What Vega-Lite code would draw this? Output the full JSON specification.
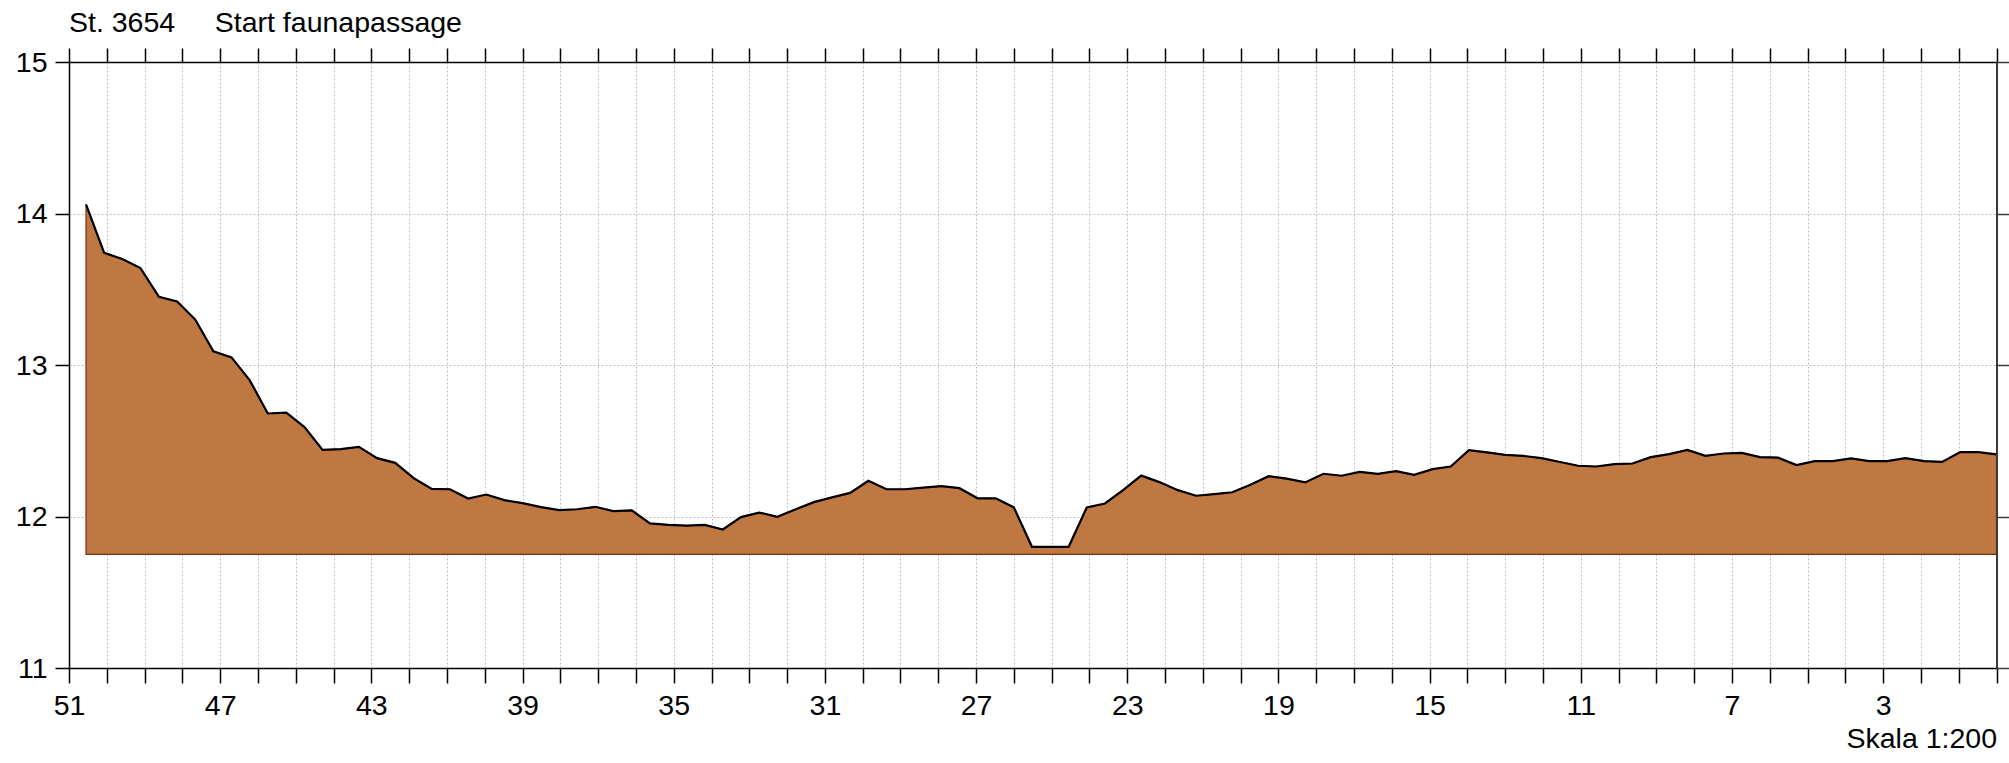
{
  "$schema": "https://vega.github.io/schema/vega-lite/v6.json",
  "width": 1927.5,
  "height": 606,
  "autosize": "none",
  "padding": {"left": 69, "top": 62, "right": 12.5, "bottom": 95},
  "background": "white",
  "title": {
    "text": "St. 3654\u00a0\u00a0\u00a0\u00a0\u00a0Start faunapassage",
    "anchor": "start",
    "frame": "group",
    "font": "Liberation Sans",
    "fontSize": 28.5,
    "fontWeight": "normal",
    "color": "black",
    "offset": 10
  },
  "config": {
    "view": {"stroke": null},
    "axis": {
      "labelFont": "Liberation Sans",
      "titleFont": "Liberation Sans",
      "labelColor": "black",
      "titleColor": "black",
      "domainColor": "black",
      "tickColor": "black",
      "domainWidth": 1.5,
      "tickWidth": 1.5,
      "gridColor": "#c0c0c0",
      "gridDash": [2, 2],
      "gridWidth": 1
    }
  },
  "data": {
    "values": [
      {"x": 50.55, "z": 14.06}, {"x": 50.07, "z": 13.74}, {"x": 49.59, "z": 13.70}, {"x": 49.11, "z": 13.64},
      {"x": 48.62, "z": 13.45}, {"x": 48.14, "z": 13.42}, {"x": 47.66, "z": 13.30}, {"x": 47.18, "z": 13.09},
      {"x": 46.70, "z": 13.05}, {"x": 46.22, "z": 12.90}, {"x": 45.74, "z": 12.68}, {"x": 45.25, "z": 12.685},
      {"x": 44.77, "z": 12.59}, {"x": 44.29, "z": 12.44}, {"x": 43.81, "z": 12.445}, {"x": 43.33, "z": 12.46},
      {"x": 42.85, "z": 12.385}, {"x": 42.37, "z": 12.354}, {"x": 41.88, "z": 12.253}, {"x": 41.40, "z": 12.182},
      {"x": 40.92, "z": 12.18}, {"x": 40.44, "z": 12.119}, {"x": 39.96, "z": 12.145}, {"x": 39.48, "z": 12.108},
      {"x": 39.00, "z": 12.088}, {"x": 38.51, "z": 12.062}, {"x": 38.03, "z": 12.042}, {"x": 37.55, "z": 12.048},
      {"x": 37.07, "z": 12.064}, {"x": 36.59, "z": 12.035}, {"x": 36.11, "z": 12.04}, {"x": 35.63, "z": 11.955},
      {"x": 35.14, "z": 11.945}, {"x": 34.66, "z": 11.94}, {"x": 34.18, "z": 11.945}, {"x": 33.70, "z": 11.914},
      {"x": 33.22, "z": 11.996}, {"x": 32.74, "z": 12.026}, {"x": 32.26, "z": 11.998}, {"x": 31.77, "z": 12.048},
      {"x": 31.29, "z": 12.095}, {"x": 30.81, "z": 12.126}, {"x": 30.33, "z": 12.156}, {"x": 29.85, "z": 12.236},
      {"x": 29.37, "z": 12.18}, {"x": 28.89, "z": 12.18}, {"x": 28.40, "z": 12.19}, {"x": 27.92, "z": 12.20},
      {"x": 27.44, "z": 12.187}, {"x": 26.96, "z": 12.12}, {"x": 26.48, "z": 12.12}, {"x": 26.00, "z": 12.06},
      {"x": 25.52, "z": 11.80}, {"x": 25.03, "z": 11.80}, {"x": 24.55, "z": 11.80}, {"x": 24.07, "z": 12.06},
      {"x": 23.59, "z": 12.086}, {"x": 23.11, "z": 12.174}, {"x": 22.63, "z": 12.27}, {"x": 22.15, "z": 12.227},
      {"x": 21.66, "z": 12.174}, {"x": 21.18, "z": 12.137}, {"x": 20.70, "z": 12.148}, {"x": 20.22, "z": 12.16},
      {"x": 19.74, "z": 12.21}, {"x": 19.26, "z": 12.266}, {"x": 18.78, "z": 12.25}, {"x": 18.29, "z": 12.225},
      {"x": 17.81, "z": 12.282}, {"x": 17.33, "z": 12.269}, {"x": 16.85, "z": 12.295}, {"x": 16.37, "z": 12.282},
      {"x": 15.89, "z": 12.30}, {"x": 15.41, "z": 12.275}, {"x": 14.92, "z": 12.313}, {"x": 14.44, "z": 12.33},
      {"x": 13.96, "z": 12.438}, {"x": 13.48, "z": 12.423}, {"x": 13.00, "z": 12.407}, {"x": 12.52, "z": 12.40},
      {"x": 12.04, "z": 12.385}, {"x": 11.55, "z": 12.36}, {"x": 11.07, "z": 12.335}, {"x": 10.59, "z": 12.33},
      {"x": 10.11, "z": 12.346}, {"x": 9.63, "z": 12.35}, {"x": 9.15, "z": 12.392}, {"x": 8.66, "z": 12.412},
      {"x": 8.18, "z": 12.44}, {"x": 7.70, "z": 12.40}, {"x": 7.22, "z": 12.416}, {"x": 6.74, "z": 12.42},
      {"x": 6.26, "z": 12.392}, {"x": 5.78, "z": 12.388}, {"x": 5.29, "z": 12.34}, {"x": 4.81, "z": 12.366},
      {"x": 4.33, "z": 12.366}, {"x": 3.85, "z": 12.383}, {"x": 3.37, "z": 12.366}, {"x": 2.89, "z": 12.366},
      {"x": 2.41, "z": 12.385}, {"x": 1.92, "z": 12.366}, {"x": 1.44, "z": 12.36}, {"x": 0.96, "z": 12.425},
      {"x": 0.48, "z": 12.425}, {"x": 0.00, "z": 12.41}
    ]
  },
  "layer": [
    {
      "mark": {"type": "area", "color": "#BF7842", "stroke": "#7a2e12", "strokeWidth": 1.2, "opacity": 1},
      "encoding": {
        "x": {
          "field": "x", "type": "quantitative",
          "scale": {"domain": [51, 0], "nice": false, "zero": false},
          "axis": {
            "orient": "bottom",
            "values": [51,50,49,48,47,46,45,44,43,42,41,40,39,38,37,36,35,34,33,32,31,30,29,28,27,26,25,24,23,22,21,20,19,18,17,16,15,14,13,12,11,10,9,8,7,6,5,4,3,2,1,0],
            "labelExpr": "(51 - datum.value) % 4 == 0 ? datum.label : ''",
            "labelOverlap": false,
            "labelFlush": false,
            "labelBound": false,
            "labelFontSize": 28.5,
            "labelPadding": 8,
            "tickSize": 15,
            "grid": true,
            "title": "Skala 1:200",
            "titleAnchor": "end",
            "titleAlign": "right",
            "titleFontSize": 28.5,
            "titleFontWeight": "normal",
            "titlePadding": 5
          }
        },
        "y": {
          "field": "z", "type": "quantitative",
          "scale": {"domain": [11, 15], "nice": false, "zero": false},
          "axis": {
            "orient": "left",
            "values": [11, 12, 13, 14, 15],
            "labelFontSize": 28.5,
            "labelPadding": 8,
            "tickSize": 14,
            "grid": true,
            "title": null
          }
        },
        "y2": {"datum": 11.75}
      }
    },
    {
      "mark": {"type": "line", "color": "black", "strokeWidth": 2.2},
      "encoding": {
        "x": {
          "field": "x", "type": "quantitative",
          "axis": {
            "orient": "top",
            "values": [51,50,49,48,47,46,45,44,43,42,41,40,39,38,37,36,35,34,33,32,31,30,29,28,27,26,25,24,23,22,21,20,19,18,17,16,15,14,13,12,11,10,9,8,7,6,5,4,3,2,1,0],
            "labels": false,
            "tickSize": 14,
            "grid": false,
            "title": null,
            "zindex": 1
          }
        },
        "y": {
          "field": "z", "type": "quantitative",
          "axis": {
            "orient": "right",
            "values": [11, 12, 13, 14, 15],
            "labels": false,
            "tickSize": 12,
            "grid": false,
            "title": null,
            "domainColor": "#3a3a3a",
            "domainWidth": 2,
            "tickColor": "#3a3a3a",
            "zindex": 1
          }
        }
      }
    }
  ],
  "resolve": {"axis": {"x": "independent", "y": "independent"}}
}
